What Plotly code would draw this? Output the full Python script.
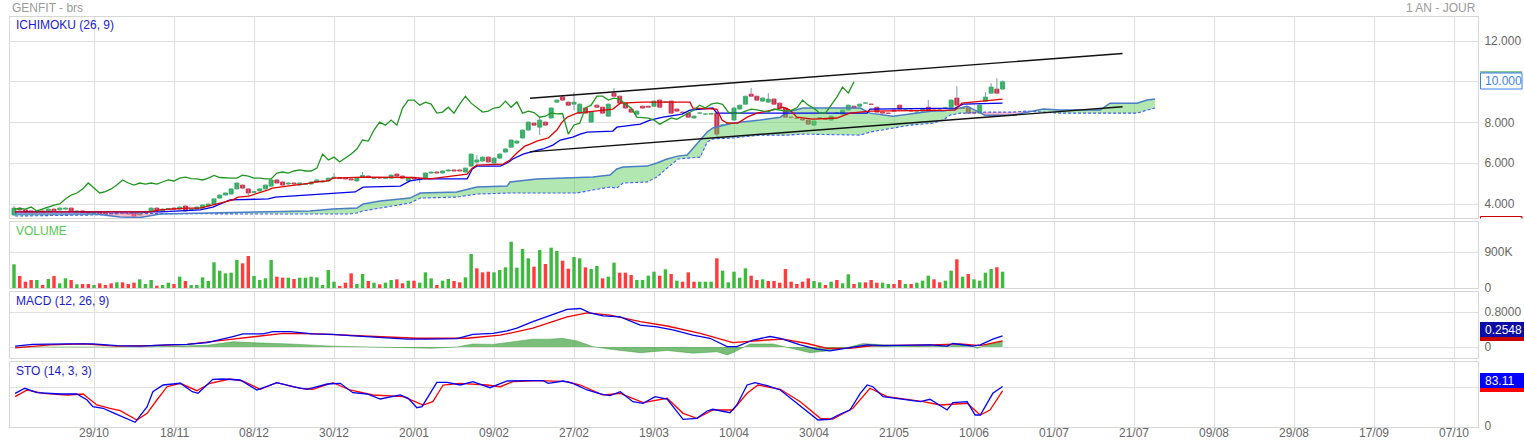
import plotly.graph_objects as go

# ---------------- data ----------------
tick_idx = [14, 28, 42, 56, 70, 84, 98, 112, 126, 140, 154, 168, 182, 196, 210, 224, 238, 252]
tick_lab = ["29/10", "18/11", "08/12", "30/12", "20/01", "09/02", "27/02", "19/03", "10/04",
            "30/04", "21/05", "10/06", "01/07", "21/07", "09/08", "29/08", "17/09", "07/10"]

opens = [3.46,3.80,3.71,3.66,3.61,3.66,3.66,3.75,3.71,3.75,
         3.80,3.61,3.66,3.59,3.53,3.59,3.56,3.53,3.51,3.56,
         3.53,3.56,3.46,3.56,3.66,3.80,3.66,3.75,3.80,3.75,
         3.90,3.71,3.75,3.80,3.90,4.00,4.29,4.44,4.49,4.74,
         4.93,4.74,4.56,4.64,4.74,4.88,5.18,5.08,4.98,5.03,
         4.93,4.96,4.98,5.08,5.08,5.13,5.27,5.30,5.27,5.23,
         5.13,5.32,5.37,5.25,5.30,5.25,5.27,5.47,5.37,5.13,
         5.27,5.20,5.27,5.52,5.57,5.52,5.62,5.67,5.67,5.57,
         5.86,6.06,6.11,6.30,6.01,6.25,6.55,6.79,6.99,7.24,
         7.63,7.97,7.77,8.02,8.22,9.00,9.25,9.00,8.90,8.46,
         8.71,8.02,8.85,8.75,8.31,9.44,9.29,8.95,8.66,8.41,
         8.80,8.80,8.80,9.10,9.00,9.05,8.66,8.51,8.46,8.22,
         8.46,8.41,8.41,8.46,7.87,7.92,8.12,8.66,8.90,9.39,
         9.29,9.05,9.00,9.15,8.95,8.71,8.26,8.22,8.17,8.12,
         7.87,8.22,8.17,8.12,8.46,8.41,8.61,8.80,8.80,8.95,
         8.90,8.75,8.51,8.46,8.61,8.85,8.61,8.61,8.51,8.56,
         8.75,8.61,8.61,8.71,8.75,9.20,8.71,8.75,8.51,8.46,
         9.05,9.44,9.64,9.64]
closes = [3.80,3.71,3.61,3.61,3.66,3.61,3.75,3.66,3.80,3.80,
          3.66,3.66,3.59,3.56,3.59,3.53,3.53,3.51,3.56,3.53,
          3.51,3.41,3.56,3.63,3.80,3.66,3.75,3.78,3.75,3.85,
          3.66,3.75,3.85,3.95,4.00,4.25,4.44,4.54,4.74,5.03,
          4.78,4.54,4.61,4.74,4.93,5.18,5.03,4.93,5.03,4.98,
          5.03,4.98,5.08,5.18,5.13,5.27,5.32,5.25,5.23,5.18,
          5.27,5.40,5.30,5.27,5.27,5.27,5.42,5.37,5.27,5.27,
          5.23,5.23,5.52,5.57,5.52,5.62,5.67,5.62,5.62,5.76,
          6.45,6.16,6.30,6.06,6.25,6.45,6.70,7.14,7.09,7.63,
          8.02,7.87,8.12,7.87,8.71,9.10,9.10,8.85,9.00,8.90,
          8.46,8.51,8.75,8.46,8.90,9.29,8.95,8.71,8.51,8.56,
          8.71,8.75,9.05,8.75,9.01,8.46,8.56,8.49,8.26,8.31,
          8.47,8.42,8.44,7.43,7.88,7.97,8.71,8.85,9.29,9.29,
          9.10,9.20,9.15,8.90,8.71,8.26,8.24,8.21,8.12,7.92,
          8.07,8.23,8.16,8.31,8.47,8.61,8.85,8.71,8.90,8.96,
          8.89,8.51,8.46,8.45,8.56,8.66,8.62,8.56,8.52,8.66,
          8.61,8.56,8.60,8.72,9.10,8.85,8.70,8.46,8.46,8.85,
          9.25,9.74,9.44,10.00]
highs = [3.90,3.85,3.75,3.70,3.69,3.69,3.78,3.78,3.83,3.83,
         3.82,3.69,3.68,3.61,3.61,3.61,3.58,3.56,3.58,3.58,
         3.56,3.58,3.58,3.66,3.83,3.83,3.78,3.80,3.83,3.88,
         3.93,3.78,3.88,3.98,4.03,4.28,4.47,4.57,4.77,5.06,
         4.96,4.77,4.64,4.77,4.96,5.21,5.21,5.11,5.06,5.06,
         5.06,5.01,5.11,5.21,5.16,5.30,5.52,5.33,5.30,5.26,
         5.30,5.57,5.40,5.30,5.33,5.30,5.45,5.50,5.40,5.30,
         5.30,5.26,5.55,5.60,5.60,5.65,5.70,5.70,5.70,5.79,
         6.48,6.40,6.33,6.33,6.28,6.48,6.73,7.17,7.12,7.66,
         8.05,8.00,8.31,8.05,8.74,9.13,9.34,9.03,9.49,8.93,
         8.74,8.54,8.88,8.78,8.93,9.69,9.32,8.98,8.69,8.59,
         8.83,8.83,9.08,9.13,9.04,9.08,8.69,8.54,8.49,8.34,
         8.50,8.45,8.47,8.49,7.91,8.00,8.74,8.88,9.32,9.69,
         9.32,9.23,9.44,9.18,8.98,8.74,8.29,8.25,8.20,8.15,
         8.10,8.26,8.20,8.34,8.50,8.64,8.88,8.83,8.93,8.99,
         8.93,8.78,8.54,8.49,8.64,8.88,8.65,8.64,8.55,8.69,
         9.10,8.64,8.64,8.75,9.13,9.78,8.74,8.78,8.54,8.88,
         9.49,9.93,10.17,10.06]
lows = [3.41,3.66,3.56,3.58,3.58,3.58,3.63,3.63,3.68,3.72,
        3.63,3.58,3.56,3.53,3.51,3.51,3.50,3.48,3.48,3.51,
        3.48,3.39,3.44,3.53,3.63,3.63,3.63,3.72,3.72,3.72,
        3.63,3.68,3.72,3.78,3.88,3.97,4.26,4.41,4.46,4.71,
        4.75,4.39,4.53,4.61,4.71,4.85,5.00,4.90,4.95,4.95,
        4.90,4.93,4.95,5.05,5.05,5.10,5.24,5.22,5.20,5.15,
        5.10,5.29,5.27,5.22,5.24,5.22,5.24,5.34,5.24,5.10,
        5.20,5.03,5.24,5.49,5.49,5.49,5.59,5.59,5.59,5.54,
        5.83,5.86,6.08,6.03,5.98,6.22,6.52,6.76,6.96,7.21,
        7.60,7.84,7.38,7.84,8.19,8.97,9.07,8.82,8.61,8.43,
        8.43,7.99,8.72,8.43,8.28,9.26,8.92,8.68,8.48,8.38,
        8.68,8.72,8.77,8.72,8.97,8.43,8.53,8.46,8.23,8.19,
        8.43,8.38,8.38,7.28,7.84,7.89,8.09,8.63,8.87,9.26,
        9.07,9.02,8.97,8.87,8.68,8.23,8.21,8.18,8.09,7.89,
        7.84,8.19,8.13,8.09,8.43,8.38,8.58,8.68,8.77,8.92,
        8.86,8.48,8.43,8.42,8.53,8.63,8.58,8.53,8.48,8.53,
        8.58,8.53,8.57,8.68,8.72,8.82,8.67,8.43,8.43,8.43,
        9.02,9.41,9.41,9.61]

volume_k = [592,300,158,200,200,75,225,300,117,242,
            200,92,100,100,75,117,75,117,142,142,
            100,133,217,100,200,58,75,133,100,283,
            175,75,75,267,175,642,433,367,383,700,
            617,800,300,200,242,700,283,258,258,225,
            258,258,283,267,75,450,158,50,133,367,
            100,350,175,133,92,133,200,217,117,183,
            183,133,392,242,75,183,225,175,142,267,
            850,492,392,408,392,450,517,1158,508,
            975,742,533,950,600,1008,925,683,483,775,
            742,517,475,550,242,283,633,383,383,325,
            200,200,308,408,308,467,350,183,158,392,
            158,158,158,158,742,433,142,408,258,492,
            308,200,217,175,175,133,475,158,100,158,
            242,175,142,75,158,200,117,342,100,142,
            142,200,133,133,100,100,200,100,100,133,
            183,308,217,142,183,433,717,283,350,217,
            183,383,475,517,408]
volume_up = [1,0,0,0,1,0,1,0,1,1,
             0,1,0,0,1,0,0,0,1,0,
             0,0,1,1,1,0,1,1,0,1,
             0,1,1,1,1,1,1,1,1,1,
             0,0,1,1,1,1,0,0,1,0,
             1,1,1,1,1,1,1,0,0,0,
             1,1,0,1,0,1,1,0,0,1,
             0,1,1,1,0,1,1,0,0,1,
             1,0,0,0,1,1,1,1,1,
             1,1,0,1,0,1,1,0,0,1,
             1,0,1,1,0,1,1,0,0,0,
             1,1,1,1,0,1,0,1,0,0,
             0,1,1,1,0,1,1,1,1,1,
             0,0,1,0,0,0,0,0,0,0,
             0,1,1,0,1,0,1,1,0,1,
             0,0,0,1,1,0,0,1,0,1,
             1,1,0,0,1,1,0,1,0,1,
             1,1,1,0,1]

# Ichimoku lines (bar index, price)
tenkan_x = [0.2, 23.8, 25.6, 30.3, 32.6, 34.8, 38.3, 39.2, 41.1, 44.5, 45.2, 51.8, 52.7, 55.0, 55.8,
            61.1, 69.8, 72.8, 79.3, 80.2, 81.0, 85.6, 86.8, 88.0, 89.4, 90.3, 91.5, 93.5, 95.0, 95.9,
            96.8, 98.5, 100.3, 104.8, 106.1, 110.1, 118.3, 118.8, 123.0, 123.9, 124.8, 126.7, 128.3,
            130.0, 133.5, 134.6, 135.8, 137.0, 139.8, 144.0, 146.3, 149.8, 164.7, 165.9, 173.0]
tenkan_v = [3.61, 3.61, 3.71, 3.80, 3.80, 3.95, 4.20, 4.34, 4.39, 4.69, 4.78, 5.03, 5.08, 5.13, 5.27,
            5.32, 5.30, 5.23, 5.47, 5.76, 5.91, 5.96, 6.16, 6.50, 6.84, 6.94, 7.09, 7.24, 7.63, 8.02,
            8.26, 8.46, 8.51, 8.66, 8.95, 9.00, 9.00, 8.71, 8.66, 8.12, 7.97, 7.97, 8.26,
            8.46, 8.66, 8.75, 8.61, 8.26, 8.17, 8.22, 8.46, 8.56, 8.61, 8.95, 9.15]
kijun_x = [0.2, 25.6, 32.6, 34.8, 37.8, 44.5, 45.7, 55.3, 59.7, 61.1, 67.6, 69.3, 71.6, 79.3, 80.2,
           81.0, 85.1, 86.3, 87.3, 89.1, 90.3, 92.6, 94.3, 95.6, 97.8, 99.1, 100.3, 104.8, 105.5,
           109.6, 111.3, 113.6, 116.9, 118.3, 122.3, 123.0, 149.3, 149.8, 164.7, 166.1, 173.0]
kijun_v = [3.61, 3.61, 3.71, 3.85, 4.20, 4.25, 4.34, 4.49, 4.59, 4.83, 4.88, 5.13, 5.23, 5.23, 5.72,
           5.86, 5.86, 6.01, 6.21, 6.45, 6.55, 6.70, 6.89, 7.14, 7.28, 7.43, 7.53, 7.58, 7.77,
           7.92, 8.12, 8.26, 8.41, 8.61, 8.71, 8.46, 8.46, 8.66, 8.71, 8.90, 8.95]
chikou_shift = 26
cloud_x = [0.2, 14.2, 18.6, 22.1, 25.6, 41.3, 51.8, 55.8, 58.8, 60.0, 61.1, 64.1, 69.3, 71.1, 77.5,
           81.0, 86.3, 86.8, 91.5, 98.5, 101.3, 104.3, 105.5, 106.6, 110.8, 112.5, 114.3, 116.2,
           117.8, 120.1, 121.3, 122.3, 125.8, 130.6, 134.1, 135.3, 138.1, 148.1, 149.8, 153.8,
           156.8, 160.8, 162.6, 163.8, 165.6, 166.8, 169.9, 174.8, 177.3, 180.1, 183.1, 190.1,
           191.8, 196.5, 198.3, 199.7]
senkou_a = [3.51, 3.51, 3.36, 3.34, 3.51, 3.61, 3.66, 3.75, 3.78, 3.80, 4.00, 4.15, 4.29, 4.54, 4.59,
            4.83, 4.88, 5.08, 5.23, 5.27, 5.32, 5.42, 5.72, 5.81, 5.86, 6.01, 6.21, 6.35,
            6.40, 7.14, 7.53, 7.73, 7.97, 8.12, 8.26, 8.51, 8.71, 8.71, 8.46, 8.31,
            8.41, 8.56, 8.56, 8.61, 8.71, 8.80, 8.36, 8.36, 8.51, 8.66, 8.61, 8.61,
            8.95, 8.95, 9.10, 9.15]
senkou_b = [3.41, 3.46, 3.56, 3.56, 3.53, 3.51, 3.51, 3.51, 3.51, 3.56, 3.66, 3.80, 4.05, 4.29, 4.34,
            4.49, 4.54, 4.54, 4.54, 4.54, 4.69, 4.83, 4.78, 5.03, 5.08, 5.32, 5.76, 6.21,
            6.25, 6.30, 7.04, 7.19, 7.24, 7.38, 7.38, 7.38, 7.43, 7.38, 7.53, 7.73,
            7.87, 7.97, 8.12, 8.36, 8.46, 8.46, 8.51, 8.51, 8.56, 8.51, 8.46, 8.46,
            8.46, 8.46, 8.61, 8.71]
trend_x = [90.3, 194.0]
trend_upper = [9.19, 11.39]
trend_lower = [6.56, 8.77]

# MACD
macd_x = [0.2, 3.3, 9.3, 13.8, 18.0, 22.1, 26.8, 30.3, 33.8, 36.1, 38.3, 40.1, 43.6, 45.3, 48.3,
          52.3, 55.8, 58.8, 61.8, 65.3, 68.8, 72.3, 77.5, 80.3, 83.8, 86.3, 88.0, 90.8, 92.9, 95.0,
          96.8, 99.1, 100.8, 103.1, 106.1, 109.6, 112.5, 115.3, 118.8, 121.8, 124.8, 126.5, 129.3,
          132.3, 134.1, 137.6, 140.5, 142.8, 145.8, 149.3, 152.1, 160.3, 163.3, 164.3, 167.8,
          169.1, 171.3, 173.0]
macd_v = [0.02, 0.06, 0.07, 0.07, 0.03, 0.02, 0.05, 0.06, 0.10, 0.18, 0.24, 0.30, 0.30, 0.35, 0.35,
          0.30, 0.29, 0.26, 0.24, 0.22, 0.18, 0.18, 0.19, 0.29, 0.31, 0.37, 0.43, 0.58, 0.68, 0.77,
          0.86, 0.88, 0.78, 0.71, 0.69, 0.50, 0.46, 0.39, 0.27, 0.20, 0.01, 0.01, 0.16,
          0.24, 0.20, 0.05, -0.05, -0.09, -0.03, 0.05, 0.03, 0.05, 0.02, 0.08, 0.02,
          0.05, 0.18, 0.2548]
signal_x = [0.2, 6.3, 12.1, 18.0, 23.8, 30.3, 38.3, 47.1, 53.0, 58.8, 64.6, 70.5, 79.3, 83.8, 85.1,
            90.8, 96.8, 100.3, 104.3, 109.6, 114.3, 120.1, 125.8, 131.8, 134.6, 138.8, 142.3,
            146.3, 150.3, 160.8, 165.6, 169.1, 173.0]
signal_v = [-0.02, 0.05, 0.07, 0.02, 0.03, 0.06, 0.18, 0.31, 0.30, 0.27, 0.24, 0.20, 0.20, 0.25, 0.27,
            0.43, 0.69, 0.78, 0.73, 0.58, 0.48, 0.31, 0.10, 0.16, 0.18, 0.08, -0.03,
            -0.03, 0.03, 0.05, 0.07, 0.03, 0.14]
hist_x = [0.2, 22.1, 33.8, 38.3, 43.6, 48.3, 55.8, 62.0, 68.8, 73.0, 77.5, 80.3, 83.8, 86.3, 88.6,
          90.8, 93.8, 95.9, 98.5, 101.3, 104.3, 109.6, 114.3, 118.8, 123.0, 124.8, 125.8, 128.8,
          132.8, 136.3, 139.3, 142.3, 145.8, 148.6, 152.1, 160.8, 166.8, 168.6, 170.3, 173.0]
hist_v = [0.0, 0.0, 0.04, 0.12, 0.09, 0.07, 0.02, 0.0, -0.02, -0.03, 0.0, 0.07, 0.06, 0.10, 0.13,
          0.18, 0.18, 0.20, 0.14, 0.01, -0.05, -0.13, -0.08, -0.14, -0.11, -0.18, -0.13, 0.07,
          0.07, -0.03, -0.13, -0.09, -0.01, 0.08, 0.05, 0.01, 0.05, -0.03, 0.05, 0.13]

# Stochastic
stok_x = [0.2, 1.9, 4.0, 8.1, 11.0, 12.8, 13.8, 15.6, 17.3, 19.1,
          21.2, 23.3, 24.3, 26.1, 29.1, 31.2, 32.2, 34.8, 36.6, 39.6,
          42.5, 46.0, 48.8, 51.3, 54.8, 57.1, 59.3, 61.8, 64.1, 67.6,
          69.0, 70.5, 71.4, 74.0, 75.8, 78.1, 80.3, 83.3, 86.3, 89.8,
          92.6, 93.5, 96.1, 97.8, 100.3, 102.6, 104.3, 106.1, 108.3, 110.1,
          112.2, 114.3, 115.3, 117.1, 119.5, 121.3, 122.3, 125.3, 126.5, 128.3,
          129.7, 131.8, 134.1, 136.3, 139.3, 140.7, 142.8, 144.6, 146.3, 148.1,
          149.3, 150.3, 152.1, 155.1, 158.6, 160.3, 163.3, 164.3, 166.8, 168.2,
          169.1, 171.3, 173.0]
stok_v = [68.8, 79.4, 70.1, 67.4, 67.4, 54.7, 40.6, 37.3, 28.0, 18.3,
          7.8, 40.6, 72.2, 86.3, 89.9, 72.2, 68.8, 98.3, 98.9, 96.8,
          75.8, 91.2, 82.7, 77.3, 88.4, 89.9, 70.1, 67.4, 56.8, 65.3,
          58.3, 38.5, 40.6, 92.0, 92.0, 86.3, 93.3, 80.6, 94.7, 95.4,
          95.4, 89.9, 94.7, 89.9, 75.8, 67.4, 63.8, 72.2, 51.2, 47.8,
          61.7, 56.8, 40.6, 14.1, 16.2, 31.6, 35.2, 28.0, 44.2, 86.3,
          91.2, 84.8, 75.8, 54.7, 26.7, 12.6, 14.1, 25.3, 33.7, 68.8,
          86.3, 82.7, 61.7, 56.8, 51.2, 56.2, 33.7, 49.1, 51.2, 23.2,
          23.2, 68.8, 83.11]
stod_x = [0.2, 2.3, 5.1, 9.3, 12.1, 14.5, 16.8, 18.6, 21.5, 23.3,
          25.0, 26.8, 29.1, 32.0, 34.3, 37.8, 40.1, 43.1, 46.0, 50.1,
          52.3, 55.8, 58.8, 62.8, 68.1, 71.6, 73.3, 75.1, 78.1, 82.8,
          85.1, 87.3, 92.1, 96.8, 99.1, 103.1, 106.1, 110.1, 114.3, 117.1,
          119.5, 122.3, 125.8, 128.3, 130.2, 134.1, 137.6, 141.1, 143.3, 146.8,
          149.8, 152.8, 159.1, 162.1, 166.8, 169.1, 170.8, 173.0]
stod_v = [61.7, 75.8, 68.8, 65.3, 67.4, 44.2, 37.3, 32.2, 12.6, 26.7,
          54.7, 82.7, 89.9, 74.3, 89.9, 98.9, 94.7, 77.3, 91.2, 79.4,
          77.3, 91.2, 75.8, 65.3, 61.7, 44.2, 51.2, 86.3, 89.9, 86.3,
          82.7, 93.3, 95.4, 93.3, 86.3, 65.3, 68.8, 49.1, 58.3, 26.7,
          16.2, 33.7, 33.7, 68.8, 86.3, 77.3, 51.2, 16.2, 14.7, 37.3,
          79.4, 61.7, 51.2, 44.2, 47.8, 23.2, 33.7, 73.7]

# ---------------- styles ----------------
GREEN = "#27b352"
RED = "#e61f3d"
VGREEN = "#3dbb3d"
VRED = "#ff3b3b"
FONT = "Liberation Sans, Arial, sans-serif"

n = len(closes)
idx = list(range(n))

fig = go.Figure()

# --- candles: wicks then bodies ---
wx, wy = [], []
for i in idx:
    wx += [i, i, None]
    wy += [lows[i], highs[i], None]
fig.add_trace(go.Scatter(x=wx, y=wy, mode="lines", line=dict(color="#7d98b8", width=1),
                         hoverinfo="skip", xaxis="x", yaxis="y"))
body_base = [min(o, c) for o, c in zip(opens, closes)]
body_h = [abs(c - o) for o, c in zip(opens, closes)]
body_col = [GREEN if c >= o else RED for o, c in zip(opens, closes)]
fig.add_trace(go.Bar(x=idx, y=body_h, base=body_base, width=0.72,
                     marker=dict(color=body_col, line=dict(color=body_col, width=0.8)),
                     xaxis="x", yaxis="y"))

# --- cloud (coloured per sign of A-B) ---
def cloud_runs(xs, a, b):
    runs = []
    cur = [(xs[0], a[0], b[0])]
    sign = a[0] >= b[0]
    for k in range(1, len(xs)):
        s = a[k] >= b[k]
        if s != sign:
            d0 = a[k - 1] - b[k - 1]
            d1 = a[k] - b[k]
            t = d0 / (d0 - d1)
            xc = xs[k - 1] + t * (xs[k] - xs[k - 1])
            yc = a[k - 1] + t * (a[k] - a[k - 1])
            cur.append((xc, yc, yc))
            runs.append((sign, cur))
            cur = [(xc, yc, yc)]
            sign = s
        cur.append((xs[k], a[k], b[k]))
    runs.append((sign, cur))
    return runs

gx, gy, px_, py_ = [], [], [], []
for sign, pts in cloud_runs(cloud_x, senkou_a, senkou_b):
    xs = [p[0] for p in pts] + [p[0] for p in reversed(pts)]
    ys = [p[1] for p in pts] + [p[2] for p in reversed(pts)]
    if sign:
        gx += xs + [None]; gy += ys + [None]
    else:
        px_ += xs + [None]; py_ += ys + [None]
fig.add_trace(go.Scatter(x=gx, y=gy, mode="lines", fill="toself", line=dict(width=0),
                         fillcolor="rgba(95,205,95,0.48)", hoverinfo="skip", xaxis="x", yaxis="y"))
fig.add_trace(go.Scatter(x=px_, y=py_, mode="lines", fill="toself", line=dict(width=0),
                         fillcolor="rgba(255,120,150,0.5)", hoverinfo="skip", xaxis="x", yaxis="y"))
fig.add_trace(go.Scatter(x=cloud_x, y=senkou_b, mode="lines",
                         line=dict(color="#3b5cff", width=1.1, dash="3px,2px"), xaxis="x", yaxis="y"))
fig.add_trace(go.Scatter(x=cloud_x, y=senkou_a, mode="lines",
                         line=dict(color="#4a7cc8", width=1.5), xaxis="x", yaxis="y"))

# --- ichimoku lines ---
fig.add_trace(go.Scatter(x=kijun_x, y=kijun_v, mode="lines", line=dict(color="#0000ee", width=1.3),
                         xaxis="x", yaxis="y"))
fig.add_trace(go.Scatter(x=tenkan_x, y=tenkan_v, mode="lines", line=dict(color="#e00000", width=1.3),
                         xaxis="x", yaxis="y"))
fig.add_trace(go.Scatter(x=[i - chikou_shift for i in idx[chikou_shift:]], y=closes[chikou_shift:],
                         mode="lines", line=dict(color="#1f961f", width=1.3), xaxis="x", yaxis="y"))

# --- trend lines ---
fig.add_trace(go.Scatter(x=trend_x, y=trend_upper, mode="lines", line=dict(color="#111111", width=1.4),
                         xaxis="x", yaxis="y"))
fig.add_trace(go.Scatter(x=trend_x, y=trend_lower, mode="lines", line=dict(color="#111111", width=1.4),
                         xaxis="x", yaxis="y"))

# --- volume ---
fig.add_trace(go.Bar(x=idx, y=[v * 1000 for v in volume_k], width=0.6,
                     marker=dict(color=[VGREEN if u else VRED for u in volume_up], line=dict(width=0)),
                     xaxis="x2", yaxis="y2"))

# --- MACD ---
fig.add_trace(go.Scatter(x=hist_x, y=hist_v, mode="lines", fill="tozeroy",
                         fillcolor="rgba(40,150,40,0.62)", line=dict(color="rgba(40,150,40,0.7)", width=0.6),
                         xaxis="x3", yaxis="y3"))
fig.add_trace(go.Scatter(x=signal_x, y=signal_v, mode="lines", line=dict(color="#ee0000", width=1.3),
                         xaxis="x3", yaxis="y3"))
fig.add_trace(go.Scatter(x=macd_x, y=macd_v, mode="lines", line=dict(color="#0000ee", width=1.3),
                         xaxis="x3", yaxis="y3"))

# --- STO ---
fig.add_trace(go.Scatter(x=stod_x, y=stod_v, mode="lines", line=dict(color="#ff0000", width=1.3),
                         xaxis="x4", yaxis="y4"))
fig.add_trace(go.Scatter(x=stok_x, y=stok_v, mode="lines", line=dict(color="#0000ff", width=1.3),
                         xaxis="x4", yaxis="y4"))

# ---------------- layout ----------------
W, H = 1524, 443
ML, MR, MT, MB = 10, 46, 17, 16
PW, PH = W - ML - MR, H - MT - MB

def yp(py):
    return (H - MB - py) / PH

def xp(px):
    return (px - ML) / PW

grid = "#e0e0e0"
border = "#d6d6d6"
xcommon = dict(range=[-0.7, 256.2], tickvals=tick_idx, ticktext=tick_lab, showgrid=True,
               gridcolor=grid, gridwidth=1, zeroline=False, showline=True, linecolor=border,
               mirror=True, ticks="", showticklabels=False, automargin=False)
ycommon = dict(side="right", showgrid=True, gridcolor=grid, zeroline=False, showline=True,
               linecolor=border, mirror=True, ticks="", tickfont=dict(size=12, color="#666666"),
               ticklabelstandoff=3, automargin=False)

layout = dict(
    width=W, height=H, margin=dict(l=ML, r=MR, t=MT, b=MB, autoexpand=False),
    paper_bgcolor="white", plot_bgcolor="white", showlegend=False, barmode="overlay",
    font=dict(family=FONT, size=12, color="#666666"),
    xaxis=dict(xcommon, anchor="y"),
    xaxis2=dict(xcommon, anchor="y2"),
    xaxis3=dict(xcommon, anchor="y3"),
    xaxis4=dict(xcommon, anchor="y4"),
    yaxis=dict(ycommon, anchor="x", domain=[yp(218), yp(17)], range=[3.313, 13.178],
               tickvals=[4, 6, 8, 10, 12], ticktext=["4.000", "6.000", "8.000", "", "12.000"]),
    yaxis2=dict(ycommon, anchor="x2", domain=[yp(288), yp(222)], range=[0, 1650000],
                tickvals=[0, 900000], ticktext=["0", "900K"]),
    yaxis3=dict(ycommon, anchor="x3", domain=[yp(358), yp(292)], range=[-0.251, 1.257],
                tickvals=[0, 0.8], ticktext=["0", "0.8000"]),
    yaxis4=dict(ycommon, anchor="x4", domain=[yp(427), yp(362)], range=[-2.1, 134.7],
                tickvals=[0, 80], ticktext=["0", ""]),
)
fig.update_layout(**layout)

ann = []
def txt(text, px, py, color, anchor="left", size=12):
    ann.append(dict(text=text, x=xp(px), y=yp(py), xref="paper", yref="paper", xanchor=anchor,
                    yanchor="middle", showarrow=False, font=dict(family=FONT, size=size, color=color)))

txt("GENFIT - brs", 10, 8, "#9a9a9a")
txt("1 AN - JOUR", 1478, 8, "#9a9a9a", anchor="right")
txt("ICHIMOKU (26, 9)", 14, 25, "#1a1ad8")
txt("VOLUME", 14, 231, "#55c855")
txt("MACD (12, 26, 9)", 14, 301, "#1a1ad8")
txt("STO (14, 3, 3)", 14, 371, "#1a1ad8")
txt("10.000", 1483, 81, "#3d7ff0")
txt("0.2548", 1483, 329.5, "#ffffff")
txt("83.11", 1483, 380.5, "#ffffff")
# date labels under the bottom panel
for tv, tl in zip(tick_idx, tick_lab):
    ann.append(dict(text=tl, x=tv, xref="x4", y=yp(433), yref="paper", xanchor="center",
                    yanchor="middle", showarrow=False, font=dict(family=FONT, size=12, color="#666666")))
fig.update_layout(annotations=ann)

shapes = []
def rect(x0, y0, x1, y1, fill=None, line=None):
    shapes.append(dict(type="rect", xref="paper", yref="paper", x0=xp(x0), x1=xp(x1),
                       y0=yp(y1), y1=yp(y0), fillcolor=fill if fill else "rgba(0,0,0,0)",
                       line=dict(color=line if line else "rgba(0,0,0,0)", width=1), layer="above"))

def seg(x0, y0, x1, y1, color):
    shapes.append(dict(type="line", xref="paper", yref="paper", x0=xp(x0), x1=xp(x1),
                       y0=yp(y0), y1=yp(y1), line=dict(color=color, width=1.2), layer="above"))

# price label box
seg(1480, 72, 1522, 72, "#1f8f1f")
rect(1480.5, 73, 1522, 89, fill="white", line="#3d7ff0")
# red box at bottom of price panel
seg(1480.5, 216.5, 1522, 216.5, "#cc0000")
seg(1480.5, 216.5, 1480.5, 218.5, "#cc0000")
seg(1522, 216.5, 1522, 218.5, "#cc0000")
# MACD boxes
rect(1480, 337, 1526, 341, fill="#c80000")
rect(1480, 322, 1526, 337, fill="#0c0ca6")
# STO boxes
rect(1480, 388, 1526, 392, fill="#ff0000")
rect(1480, 373, 1526, 388, fill="#0000ff")
fig.update_layout(shapes=shapes)

fig.write_html("out.html")
